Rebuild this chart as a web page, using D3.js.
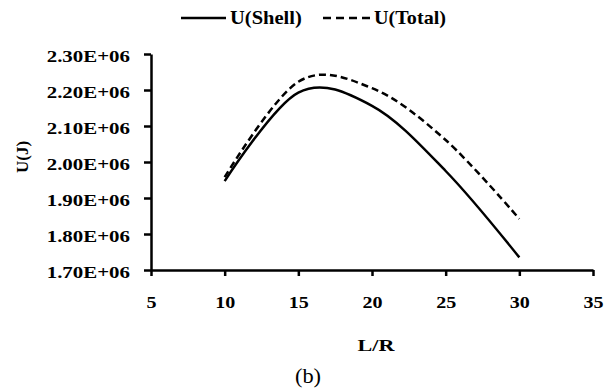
<!DOCTYPE html>
<html>
<head>
    <title>U vs L/R</title>
    <script src="https://d3js.org/d3.v7.min.js"></script>
    <style>
        body { margin: 0; background: #fff; }
        text { font-family: "Liberation Serif", "Times New Roman", serif; fill: #000; }
        .tick text { font-weight: bold; font-size: 17px; }
        .lbl { font-weight: bold; font-size: 17px; }
    </style>
</head>
<body>
<svg width="615" height="391"></svg>
<script>
    // data
    var ratio = [10, 15, 20, 25, 30];
    var uShell = [1.947e6, 2.193e6, 2.156e6, 1.975e6, 1.735e6];
    var uTotal = [1.958e6, 2.223e6, 2.205e6, 2.061e6, 1.842e6];
    var xTicks = [5, 10, 15, 20, 25, 30, 35];
    var yTicks = [1.7e6, 1.8e6, 1.9e6, 2.0e6, 2.1e6, 2.2e6, 2.3e6];

    var svg = d3.select("svg");

    var x = d3.scaleLinear().domain([5, 35]).range([151, 593]);
    var y = d3.scaleLinear().domain([1.7e6, 2.3e6]).range([270, 54]);

    // the source image is stretched sideways, so widen text around its anchor
    function stretch(sel, s) {
        sel.each(function() {
            var t = d3.select(this);
            var ax = +t.attr("x") || 0, ay = +t.attr("y") || 0;
            t.attr("transform", "translate(" + ax + "," + ay + ") scale(" + s + ",1) translate(" + (-ax) + "," + (-ay) + ")");
        });
    }

    // axes
    var xAxis = svg.append("g")
        .attr("transform", "translate(0,270)")
        .call(d3.axisBottom(x).tickValues(xTicks).tickSize(6).tickPadding(20).tickSizeOuter(0));
    var yAxis = svg.append("g")
        .attr("transform", "translate(151,0)")
        .call(d3.axisLeft(y).tickValues(yTicks).tickSize(7).tickPadding(14).tickSizeOuter(0)
            .tickFormat(function(d){ return (d / 1e6).toFixed(2) + "E+06"; }));

    svg.selectAll(".domain, .tick line").attr("stroke", "#000").attr("stroke-width", 2.5);
    svg.selectAll(".tick text").attr("font-family", null).attr("font-size", null);
    yAxis.selectAll(".tick text").attr("dy", "0.42em");
    stretch(yAxis.selectAll(".tick text"), 1.23);
    stretch(xAxis.selectAll(".tick text"), 1.18);

    // lines, smoothed like the spreadsheet original
    var line = d3.line()
        .x(function(d){ return x(d[0]); })
        .y(function(d){ return y(d[1]); })
        .curve(d3.curveCatmullRom.alpha(0));

    svg.append("path")
        .datum(d3.zip(ratio, uShell))
        .attr("d", line)
        .attr("fill", "none").attr("stroke", "#000").attr("stroke-width", 2.5);

    svg.append("path")
        .datum(d3.zip(ratio, uTotal))
        .attr("d", line)
        .attr("fill", "none").attr("stroke", "#000").attr("stroke-width", 2.5)
        .attr("stroke-dasharray", "7,4");

    // axis titles
    svg.append("text").attr("class", "lbl")
        .attr("x", 376).attr("y", 351).attr("text-anchor", "middle")
        .text("L/R")
        .call(stretch, 1.3);
    svg.append("text").attr("class", "lbl")
        .attr("transform", "translate(28,157) rotate(-90)")
        .attr("text-anchor", "middle")
        .text("U(J)");
    svg.append("text")
        .attr("x", 308).attr("y", 383).attr("text-anchor", "middle")
        .attr("font-size", "20px")
        .text("(b)")
        .call(stretch, 1.12);

    // legend
    var legend = svg.append("g");
    legend.append("line").attr("x1", 181).attr("x2", 226).attr("y1", 18).attr("y2", 18)
        .attr("stroke", "#000").attr("stroke-width", 2.5);
    legend.append("text").attr("class", "lbl").attr("x", 230).attr("y", 24)
        .style("font-size", "18px").text("U(Shell)").call(stretch, 1.14);
    legend.append("line").attr("x1", 323).attr("x2", 371).attr("y1", 18).attr("y2", 18)
        .attr("stroke", "#000").attr("stroke-width", 2.5).attr("stroke-dasharray", "8,5");
    legend.append("text").attr("class", "lbl").attr("x", 374).attr("y", 24)
        .style("font-size", "18px").text("U(Total)").call(stretch, 1.12);
</script>
</body>
</html>
